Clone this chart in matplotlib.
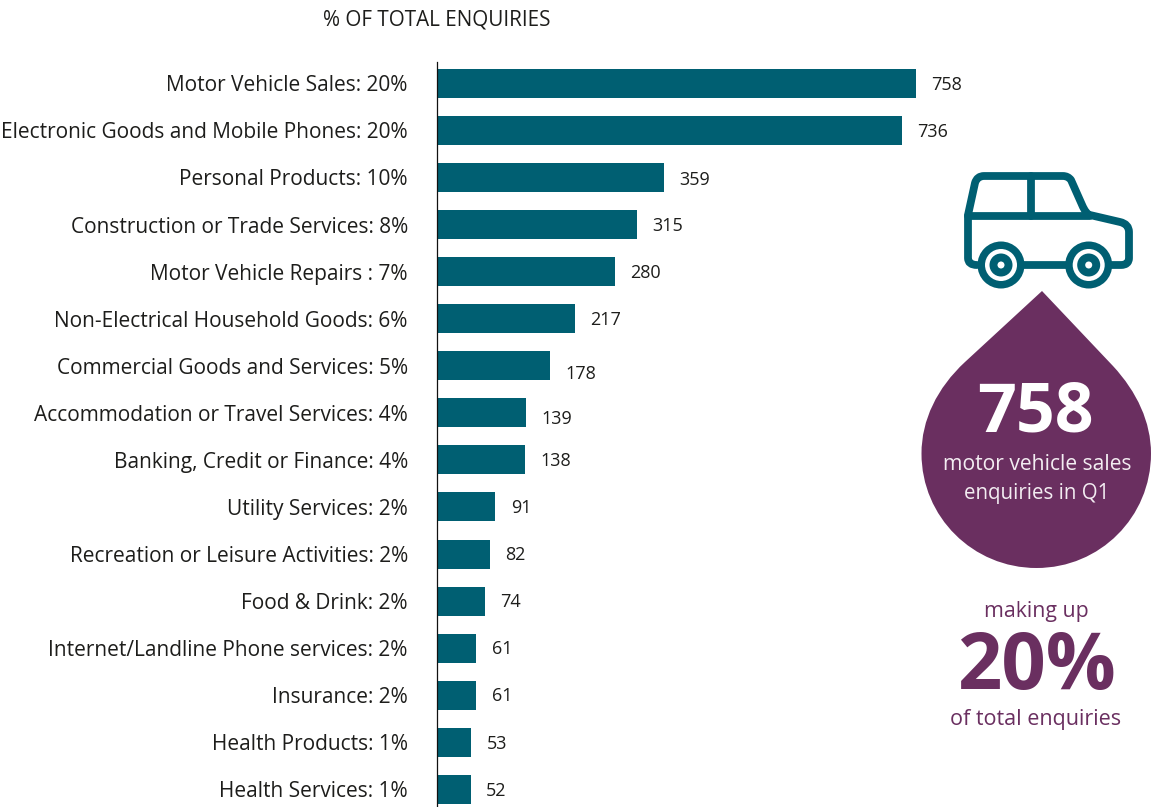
import matplotlib
matplotlib.use("Agg")
import matplotlib.pyplot as plt
from matplotlib.path import Path
from matplotlib.patches import PathPatch, Circle

plt.rcParams["font.family"] = ["Open Sans", "DejaVu Sans"]

categories = [
    "Motor Vehicle Sales: 20%",
    "Electronic Goods and Mobile Phones: 20%",
    "Personal Products: 10%",
    "Construction or Trade Services: 8%",
    "Motor Vehicle Repairs : 7%",
    "Non-Electrical Household Goods: 6%",
    "Commercial Goods and Services: 5%",
    "Accommodation or Travel Services: 4%",
    "Banking, Credit or Finance: 4%",
    "Utility Services: 2%",
    "Recreation or Leisure Activities: 2%",
    "Food & Drink: 2%",
    "Internet/Landline Phone services: 2%",
    "Insurance: 2%",
    "Health Products: 1%",
    "Health Services: 1%",
]
enquiries = [758, 736, 359, 315, 280, 217, 178, 139, 138, 91, 82, 74, 61, 61, 53, 52]
label_nudge = [0, 0, -1, 0, 0, 0, -7, -5, 0, 0, 0, 0, 0, 0, -1, 0]

TEAL = "#005F72"
PURPLE = "#6A2F60"
INK = "#1d1d1b"
W, H = 1151, 807
ROW = 47.07

fig = plt.figure(figsize=(W / 100, H / 100), dpi=100, facecolor="white")

# Bar panel: runs from the axis line to the right edge, top at y=62 px
px_per_unit = 478 / 758
ax = fig.add_axes([436.5 / W, 0, (W - 436.5) / W, (H - 62) / H])
ax.patch.set_alpha(0)
ax.barh(range(len(enquiries)), enquiries, height=29 / ROW, color=TEAL, left=0)
ax.set_xlim(-1.5 / px_per_unit, (W - 438) / px_per_unit)
ax.set_ylim((H - 83.3) / ROW, -21.3 / ROW)
for side in ("top", "right", "bottom"):
    ax.spines[side].set_visible(False)
ax.spines["left"].set_linewidth(0.9)
ax.spines["left"].set_color("#111111")
ax.set_xticks([])
ax.set_yticks(range(len(categories)))
ax.set_yticklabels(categories, fontsize=15.05, color=INK)
ax.tick_params(axis="y", length=0, pad=20.7)

for i, (v, dy) in enumerate(zip(enquiries, label_nudge)):
    ax.annotate(str(v), (v, i), xytext=(11, (dy - 1.2) * 0.72), textcoords="offset points",
                va="center", ha="left", fontsize=13, color=INK)

fig.text(323 / W, 1 - 20 / H, "% OF TOTAL ENQUIRIES", fontsize=14.85, color=INK,
         va="center", ha="left")

# Overlay in pixel coordinates for the callout graphic
ov = fig.add_axes([0, 0, 1, 1])
ov.set_xlim(0, W)
ov.set_ylim(H, 0)
ov.axis("off")
ov.patch.set_alpha(0)

# Droplet
drop = Path(
    [(1042, 291), (965, 362), (937, 388), (921.5, 420), (921.5, 453.5),
     (921.5, 517), (973, 568), (1036.5, 568),
     (1100, 568), (1151, 517), (1151, 453.5),
     (1151, 422), (1137, 392), (1113, 366), (1042, 291)],
    [Path.MOVETO, Path.LINETO, Path.CURVE4, Path.CURVE4, Path.CURVE4,
     Path.CURVE4, Path.CURVE4, Path.CURVE4,
     Path.CURVE4, Path.CURVE4, Path.CURVE4,
     Path.CURVE4, Path.CURVE4, Path.CURVE4, Path.LINETO],
)
ov.add_patch(PathPatch(drop, facecolor=PURPLE, edgecolor="none"))

ov.text(1035, 413, "758", color="white", fontsize=49, fontweight="bold", ha="center", va="center")
ov.text(1037, 464, "motor vehicle sales", color="#f3edf2", fontsize=15.2, ha="center", va="center")
ov.text(1037, 493, "enquiries in Q1", color="#f3edf2", fontsize=14.8, ha="center", va="center")

ov.text(1036, 611, "making up", color=PURPLE, fontsize=15.3, ha="center", va="center")
ov.text(1036, 668, "20%", color=PURPLE, fontsize=56, fontweight="bold", ha="center", va="center")
ov.text(1036, 720, "of total enquiries", color=PURPLE, fontsize=15.5, ha="center", va="center")

# Car icon, stroked outline
LW = 5.6
stroke = dict(color=TEAL, linewidth=LW, solid_capstyle="round", solid_joinstyle="round")
body = Path(
    [(977, 265), (968, 265), (968, 258), (968, 215), (975, 183), (977, 176), (984, 176),
     (1063, 176), (1068, 176), (1071, 180), (1083, 207), (1087, 215), (1090, 215),
     (1120, 222), (1129, 224), (1129, 232), (1129, 258), (1129, 265), (1121, 265), (1112, 265)],
    [Path.MOVETO, Path.CURVE3, Path.CURVE3, Path.LINETO, Path.LINETO, Path.CURVE3, Path.CURVE3,
     Path.LINETO, Path.CURVE3, Path.CURVE3, Path.LINETO, Path.CURVE3, Path.CURVE3,
     Path.LINETO, Path.CURVE3, Path.CURVE3, Path.LINETO, Path.CURVE3, Path.CURVE3, Path.LINETO],
)
ov.add_patch(PathPatch(body, facecolor="none", edgecolor=TEAL, linewidth=LW,
                       capstyle="round", joinstyle="round"))
ov.plot([968, 1090], [216, 216], **stroke)
ov.plot([1031, 1031], [176, 216], **stroke)
ov.plot([1023, 1066], [265, 265], **stroke)
for cx in (1001, 1088.7):
    ov.add_patch(Circle((cx, 265), 23.5, facecolor=TEAL, edgecolor="none"))
    ov.add_patch(Circle((cx, 265), 16, facecolor="white", edgecolor="none"))
    ov.add_patch(Circle((cx, 265), 11.5, facecolor=TEAL, edgecolor="none"))
    ov.add_patch(Circle((cx, 265), 3.5, facecolor="white", edgecolor="none"))

fig.savefig("out.png", dpi=100)
